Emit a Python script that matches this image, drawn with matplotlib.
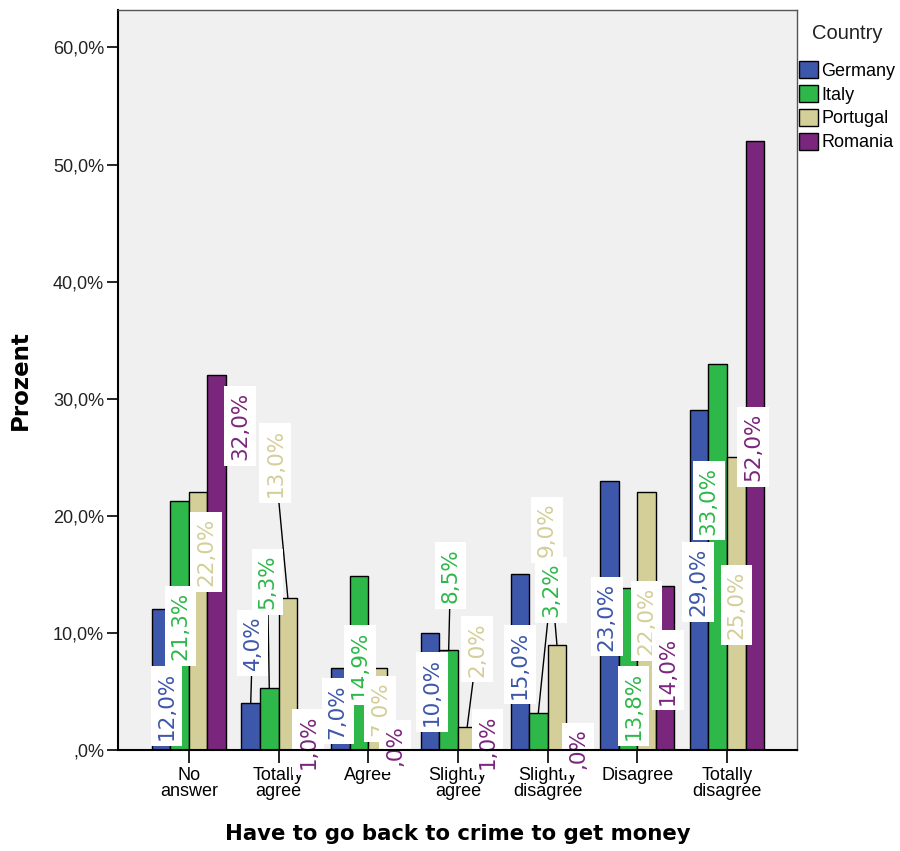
import matplotlib
matplotlib.use("Agg")
import matplotlib.pyplot as plt
from matplotlib.patches import Patch
import numpy as np

categories = ["No\nanswer", "Totally\nagree", "Agree", "Slightly\nagree",
              "Slightly\ndisagree", "Disagree", "Totally\ndisagree"]
countries = ["Germany", "Italy", "Portugal", "Romania"]

germany = [12.0, 4.0, 7.0, 10.0, 15.0, 23.0, 29.0]
italy = [21.3, 5.3, 14.9, 8.5, 3.2, 13.8, 33.0]
portugal = [22.0, 13.0, 7.0, 2.0, 9.0, 22.0, 25.0]
romania = [32.0, 1.0, 0.0, 1.0, 0.0, 14.0, 52.0]
series = [germany, italy, portugal, romania]

colors = ["#3d57aa", "#2eb84a", "#d4ce98", "#7a267c"]

# where SPSS put the value labels (label centre y in %, x shift from bar centre)
label_y = [
    [3.76, 9.13, 3.3, 4.95, 7.3, 11.4, 14.35],
    [10.58, 14.34, 7.25, 14.9, 13.65, 3.75, 21.3],
    [16.9, 24.49, 3.5, 8.6, 18.8, 11.0, 12.4],
    [27.65, 0.68, 0.34, 0.68, 0.1, 6.8, 25.9],
]
label_dx = [
    [0.06, 0.02, -0.03, 0.02, 0.0, -0.03, -0.01],
    [0.01, -0.02, 0.01, 0.02, 0.14, 0.06, -0.10],
    [0.09, -0.14, 0.03, 0.11, -0.11, 0.0, 0.0],
    [0.26, 0.02, -0.01, 0.02, 0.03, 0.03, -0.02],
]

def pct(v):
    s = "%.1f%%" % v
    s = s.replace(".", ",")
    if s.startswith("0,"):
        s = s[1:]
    return s

fig = plt.figure(figsize=(9, 8.51), dpi=100)
ax = fig.add_axes([118/900, 1-750/851, 679/900, 740/851])
ax.set_facecolor("#f0f0f0")

x = np.arange(len(categories))
w = 0.207
for i, vals in enumerate(series):
    xs = x + (i - 1.5) * w
    ax.bar(xs, vals, width=w, color=colors[i], edgecolor="black", linewidth=1, zorder=2)
    for j, v in enumerate(vals):
        lx = xs[j] + label_dx[i][j]
        ly = label_y[i][j]
        if v < ly - 1.5:
            ax.plot([lx, xs[j]], [ly, v], color="black", lw=1, zorder=2.1)
        ax.text(lx, ly, pct(v), rotation=90, ha="center", va="center",
                rotation_mode="anchor", color=colors[i], fontsize=15.5,
                family=["Liberation Sans Narrow", "DejaVu Sans"], zorder=2.3,
                clip_on=False,
                bbox=dict(boxstyle="square,pad=0.27", facecolor="white", edgecolor="none"))

ax.set_xlim(-0.79, 6.78)
ax.set_ylim(0, 63.2)
ax.set_xticks(x)
ax.set_xticklabels(categories, fontsize=13, family="Liberation Sans", linespacing=0.95)
yt = [0, 10, 20, 30, 40, 50, 60]
ax.set_yticks(yt)
ax.set_yticklabels([pct(v) for v in yt], fontsize=13, family="Liberation Sans", color="#222222")
ax.tick_params(axis="x", length=9, width=1.2, pad=3)
ax.tick_params(axis="y", length=8, width=1.2, pad=2)

for s in ["left", "bottom"]:
    ax.spines[s].set_linewidth(1.5)
    ax.spines[s].set_color("black")
for s in ["top", "right"]:
    ax.spines[s].set_linewidth(1)
    ax.spines[s].set_color("#555555")

ax.set_ylabel("Prozent", fontsize=16.5, fontweight="bold", labelpad=15)
ax.set_xlabel("Have to go back to crime to get money", fontsize=15.3, fontweight="bold", labelpad=17)

handles = [Patch(facecolor=c, edgecolor="black", linewidth=1) for c in colors]
leg = ax.legend(handles, countries, loc="upper left", bbox_to_anchor=(799/900, 1-24/851),
                bbox_transform=fig.transFigure, frameon=False, title="Country",
                prop={"family": "Liberation Sans", "size": 13},
                handlelength=1.05, handleheight=1.05, handletextpad=0.2,
                labelspacing=0.3, borderpad=0, borderaxespad=0)
leg.get_title().set_fontsize(14.5)
leg.get_title().set_family("Liberation Sans")
leg.get_title().set_color("#222222")
leg._legend_box.sep = 13

fig.savefig("out.png", dpi=100)
